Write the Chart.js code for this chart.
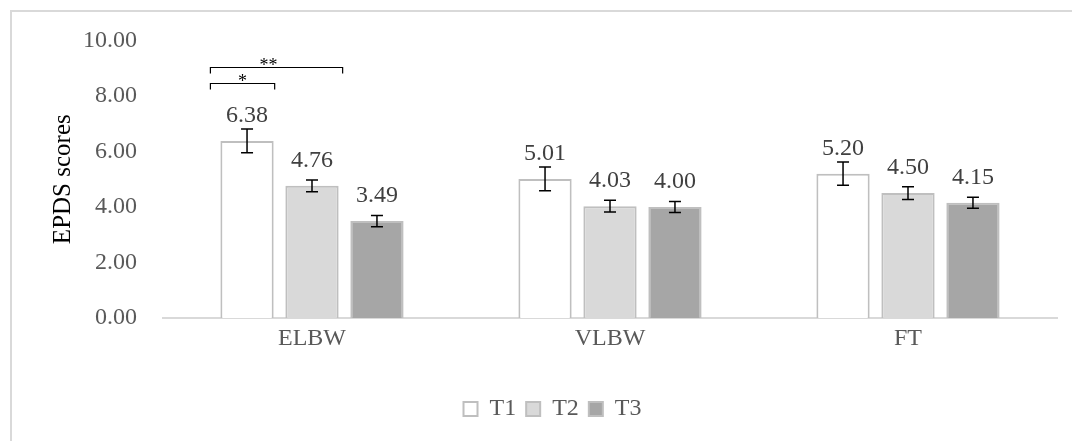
<!DOCTYPE html>
<html>
<head>
<meta charset="utf-8">
<script src="https://cdn.jsdelivr.net/npm/chart.js@4"></script>
<style>
  body { margin: 0; background: #fff; }
  canvas { display: block; }
</style>
</head>
<body>
<canvas id="chart" width="1072" height="441"></canvas>
<script>
// Groups and time points
const CATEGORIES = ["ELBW", "VLBW", "FT"];
const SERIES = ["T1", "T2", "T3"];

// Mean EPDS scores per time point
const T1_VALUES = [6.38, 5.01, 5.20];
const T2_VALUES = [4.76, 4.03, 4.50];
const T3_VALUES = [3.49, 4.00, 4.15];

// Error bar half-widths
const T1_ERR = [0.43, 0.43, 0.42];
const T2_ERR = [0.21, 0.21, 0.23];
const T3_ERR = [0.20, 0.20, 0.20];

const Y_TICKS = [0, 2, 4, 6, 8, 10];

// Significance brackets over ELBW: from series a to series b
const BRACKETS = [
  { cat: 0, from: 0, to: 0, level: 8.45, text: "*" },
  { cat: 0, from: 0, to: 1, level: 9.03, text: "**" },
];

const FILLS = ["#FFFFFF", "#D9D9D9", "#A6A6A6"];
const BORDER = "#BFBFBF";
const FONT = "'Liberation Serif', 'Times New Roman', serif";

const valuesBySeries = [T1_VALUES, T2_VALUES, T3_VALUES];
const errBySeries = [T1_ERR, T2_ERR, T3_ERR];

// Outer frame (left and top edges, like the exported picture)
const framePlugin = {
  id: "frame",
  beforeDraw(chart) {
    const ctx = chart.ctx;
    ctx.save();
    ctx.strokeStyle = "#D9D9D9";
    ctx.lineWidth = 2;
    ctx.beginPath();
    ctx.moveTo(11, chart.height);
    ctx.lineTo(11, 11);
    ctx.lineTo(chart.width, 11);
    ctx.stroke();
    ctx.restore();
  },
};

// Error bars + value labels above bars
const barExtrasPlugin = {
  id: "barExtras",
  afterDatasetsDraw(chart) {
    const ctx = chart.ctx;
    const y = chart.scales.y;
    ctx.save();
    chart.data.datasets.forEach((ds, di) => {
      const meta = chart.getDatasetMeta(di);
      meta.data.forEach((bar, i) => {
        const v = ds.data[i];
        const e = errBySeries[di][i];
        const top = y.getPixelForValue(v + e);
        const bot = y.getPixelForValue(v - e);
        ctx.strokeStyle = "#000";
        ctx.lineWidth = 1.5;
        ctx.beginPath();
        ctx.moveTo(bar.x, top);
        ctx.lineTo(bar.x, bot);
        ctx.moveTo(bar.x - 6, top);
        ctx.lineTo(bar.x + 6, top);
        ctx.moveTo(bar.x - 6, bot);
        ctx.lineTo(bar.x + 6, bot);
        ctx.stroke();

        ctx.fillStyle = "#404040";
        ctx.font = "24px " + FONT;
        ctx.textAlign = "center";
        ctx.textBaseline = "middle";
        ctx.fillText(v.toFixed(2), bar.x, bar.y - 25);
      });
    });
    ctx.restore();
  },
};

// Significance brackets
const bracketPlugin = {
  id: "brackets",
  afterDatasetsDraw(chart) {
    const ctx = chart.ctx;
    const y = chart.scales.y;
    ctx.save();
    ctx.strokeStyle = "#000";
    ctx.lineWidth = 1.2;
    ctx.fillStyle = "#000";
    ctx.font = "18px " + FONT;
    ctx.textAlign = "center";
    ctx.textBaseline = "middle";
    BRACKETS.forEach((b) => {
      const a = chart.getDatasetMeta(b.from).data[b.cat];
      const c = chart.getDatasetMeta(b.to).data[b.cat];
      const x1 = a.x - a.width / 2 - 10;
      const x2 = c.x + c.width / 2 + (b.from === b.to ? 1 : 4);
      const yy = Math.round(y.getPixelForValue(b.level)) + 0.5;
      ctx.beginPath();
      ctx.moveTo(x1, yy + 6);
      ctx.lineTo(x1, yy);
      ctx.lineTo(x2, yy);
      ctx.lineTo(x2, yy + 6);
      ctx.stroke();
      ctx.fillText(b.text, (x1 + x2) / 2 - (b.text.length - 1) * 8, yy - 1);
    });
    ctx.restore();
  },
};

new Chart(document.getElementById("chart"), {
  type: "bar",
  data: {
    labels: CATEGORIES,
    datasets: SERIES.map((name, i) => ({
      label: name,
      data: valuesBySeries[i],
      backgroundColor: FILLS[i],
      borderColor: BORDER,
      borderWidth: 2,
      categoryPercentage: 0.654,
      barPercentage: 0.82,
    })),
  },
  options: {
    responsive: false,
    animation: false,
    layout: { padding: { left: 48, top: 40, right: 15, bottom: 10 } },
    plugins: {
      legend: {
        position: "bottom",
        labels: {
          boxWidth: 14,
          boxHeight: 14,
          padding: 10,
          color: "#595959",
          font: { family: FONT, size: 24 },
        },
      },
      tooltip: { enabled: false },
    },
    scales: {
      x: {
        grid: { display: false, drawTicks: false },
        border: { color: "#D9D9D9", width: 2 },
        ticks: {
          color: "#595959",
          padding: 6,
          font: { family: FONT, size: 24 },
        },
        afterFit(scale) {
          scale.height = 69;
        },
      },
      y: {
        min: 0,
        max: 10,
        afterBuildTicks(scale) {
          scale.ticks = Y_TICKS.map((v) => ({ value: v }));
        },
        grid: { display: false, drawTicks: false },
        border: { display: false },
        ticks: {
          color: "#595959",
          padding: 26,
          font: { family: FONT, size: 24 },
          callback: (v) => Number(v).toFixed(2),
        },
        title: {
          display: true,
          text: "EPDS scores",
          color: "#000",
          padding: { top: 0, bottom: 0 },
          font: { family: FONT, size: 25 },
        },
        afterFit(scale) {
          scale.width = 115;
        },
      },
    },
  },
  plugins: [framePlugin, barExtrasPlugin, bracketPlugin],
});
</script>
</body>
</html>
